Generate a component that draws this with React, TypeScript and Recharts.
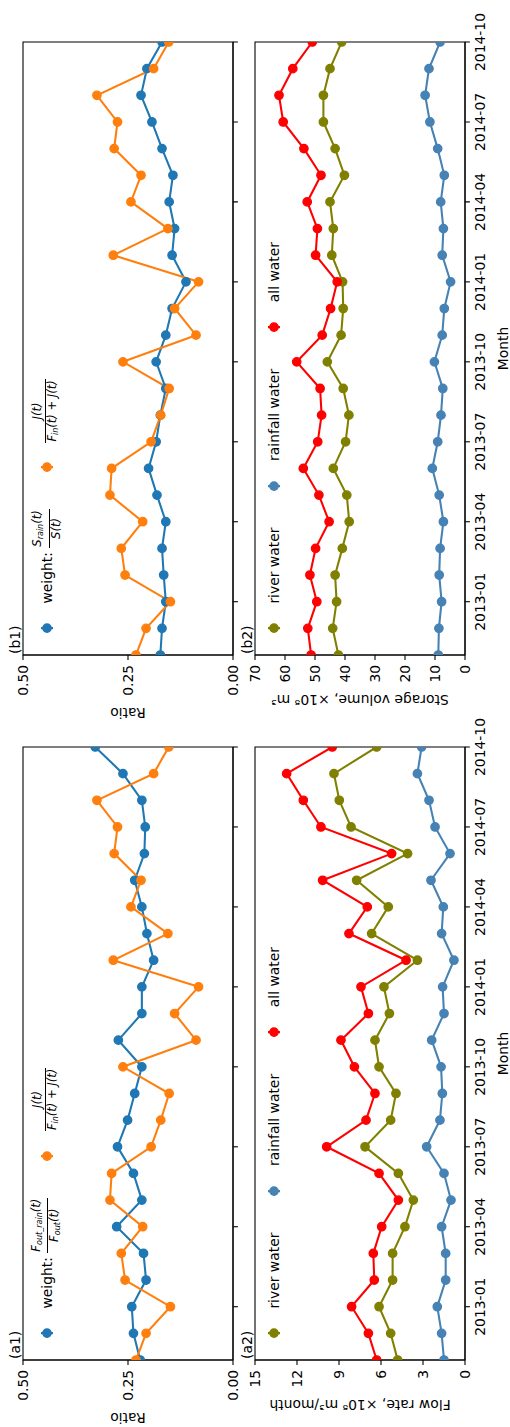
import React from 'react';
import { LineChart, Line, XAxis, YAxis, ReferenceArea, Legend } from 'recharts';

const months = ['2012-11','2012-12','2013-01','2013-02','2013-03','2013-04','2013-05','2013-06','2013-07','2013-08','2013-09','2013-10','2013-11','2013-12','2014-01','2014-02','2014-03','2014-04','2014-05','2014-06','2014-07','2014-08','2014-09','2014-10'];
const monthTicks = [2, 5, 8, 11, 14, 17, 20, 23];
const ratioTicks = [0, 0.25, 0.5];
const flowTicks = [0, 3, 6, 9, 12, 15];
const storageTicks = [0, 10, 20, 30, 40, 50, 60, 70];

// (a1) ratios
const weightOut = [0.221,0.237,0.241,0.207,0.213,0.277,0.217,0.237,0.275,0.251,0.234,0.217,0.273,0.217,0.217,0.189,0.205,0.217,0.234,0.211,0.209,0.217,0.262,0.328];
const jRatio = [0.231,0.207,0.149,0.257,0.266,0.215,0.293,0.289,0.195,0.172,0.152,0.262,0.088,0.139,0.082,0.285,0.155,0.243,0.219,0.283,0.275,0.324,0.189,0.153];
// (b1) ratios
const weightStorage = [0.173,0.169,0.160,0.165,0.169,0.160,0.181,0.201,0.183,0.173,0.160,0.183,0.160,0.145,0.112,0.145,0.139,0.152,0.143,0.169,0.193,0.219,0.205,0.169];
// (a2) flow rate
const flowRiver = [4.81,5.31,6.14,5.17,5.17,4.29,3.69,4.76,7.14,5.31,4.93,6.14,6.43,5.40,5.79,3.40,6.67,5.48,7.74,4.10,8.14,8.98,9.36,6.31];
const flowRain = [1.50,1.67,1.98,1.38,1.38,1.67,1.00,1.50,2.74,1.79,1.62,1.71,2.38,1.50,1.60,0.79,1.67,1.55,2.43,1.07,2.14,2.57,3.40,3.10];
const flowAll = [6.31,6.90,8.10,6.48,6.55,5.95,4.76,6.14,9.88,7.07,6.43,7.90,8.86,6.90,7.43,4.21,8.29,6.98,10.17,5.24,10.29,11.55,12.74,9.48];
// (b2) storage volume
const storRiver = [42.2,44.1,42.8,43.3,40.9,38.6,39.4,43.9,39.8,38.7,40.6,45.9,41.3,40.6,40.8,44.4,43.9,45.0,40.2,43.3,47.2,47.2,45.0,41.1];
const storRain = [8.9,8.7,7.8,8.6,8.3,7.2,8.6,10.9,9.1,8.0,7.4,10.2,7.6,6.9,4.8,7.6,7.2,8.1,6.9,9.1,11.7,13.3,12.0,8.3];
const storAll = [51.3,52.4,49.4,51.7,49.8,45.3,48.7,53.9,49.1,47.8,48.3,56.1,47.6,44.8,42.6,49.8,49.2,52.6,48.0,53.7,60.6,62.0,57.4,50.9];

const FONT = 'DejaVu Sans';
const FS = 13.9;
const C_BLUE = '#1f77b4';
const C_ORANGE = '#ff7f0e';
const C_RED = '#ff0000';
const C_OLIVE = '#808000';
const C_STEEL = '#4682b4';

const Sub = ({ children }: any) => (
  <span style={{ fontSize: '0.7em', verticalAlign: '-0.3em' }}>{children}</span>
);

const Frac = ({ num, den }: any) => (
  <span style={{ display: 'inline-flex', flexDirection: 'column', alignItems: 'center', verticalAlign: 'middle', fontStyle: 'italic', fontSize: 11.5, lineHeight: '13px' }}>
    <span style={{ padding: '0 1px 1px 1px' }}>{num}</span>
    <span style={{ borderTop: '0.9px solid #000', padding: '0 1px', alignSelf: 'stretch', textAlign: 'center' }}>{den}</span>
  </span>
);

type Item = { color: string; label: any };

const LegendRow = ({ items }: { items: Item[] }) => (
  <div style={{ display: 'flex', alignItems: 'center', height: 34, fontFamily: FONT, fontSize: FS, color: '#000', whiteSpace: 'nowrap' }}>
    {items.map((it, k) => (
      <div key={k} style={{ display: 'flex', alignItems: 'center', marginLeft: k ? 27.8 : 0 }}>
        <svg width={27.8} height={16} style={{ display: 'block' }}>
          <line x1={13.9} x2={13.9} y1={2} y2={14} stroke={it.color} strokeWidth={2.08} />
          <circle cx={13.9} cy={8} r={4.17} fill={it.color} stroke={it.color} strokeWidth={1.39} />
        </svg>
        <div style={{ marginLeft: 11.1, display: 'flex', alignItems: 'center' }}>{it.label}</div>
      </div>
    ))}
  </div>
);

type Series = { key: string; color: string; values: number[] };

type PanelProps = {
  left: number;
  top: number;
  height: number;
  marginTop: number;
  xAxisHeight: number;
  marginBottom: number;
  series: Series[];
  yMax: number;
  yTicks: number[];
  yFmt: (v: number) => string;
  yLabel: string;
  yLabelX: number;
  panelLabel: string;
  showMonths: boolean;
  legendItems: Item[];
  legendTop: number;
};

const Panel = (p: PanelProps) => {
  const data = months.map((m, i) => {
    const row: any = { i };
    p.series.forEach((s) => { row[s.key] = s.values[i]; });
    return row;
  });
  const W = 720;
  const plotLeft = 67;
  const plotRight = 680;
  const plotTop = p.marginTop;
  const plotBottom = p.height - p.marginBottom - p.xAxisHeight;
  const cy = (plotTop + plotBottom) / 2;
  const labels = () => (
    <g>
      <text x={p.yLabelX} y={cy} transform={`rotate(-90 ${p.yLabelX} ${cy})`} textAnchor="middle" dominantBaseline="central" fontSize={FS} fontFamily={FONT} fill="#000">{p.yLabel}</text>
      <text x={plotLeft + 1} y={plotTop - 3} fontSize={FS} fontFamily={FONT} fill="#000">{p.panelLabel}</text>
      {p.showMonths ? (
        <text x={(plotLeft + plotRight) / 2} y={plotBottom + 38} textAnchor="middle" dominantBaseline="central" fontSize={FS} fontFamily={FONT} fill="#000">Month</text>
      ) : null}
    </g>
  );
  const tickStyle = { fontSize: FS, fontFamily: FONT, fill: '#000' };
  return (
    <div style={{ position: 'absolute', left: p.left, top: p.top, width: W, height: p.height }}>
      <LineChart width={W} height={p.height} data={data} margin={{ top: p.marginTop, right: W - plotRight, bottom: p.marginBottom, left: 0 }}>
        <XAxis
          dataKey="i"
          type="number"
          domain={[0, 23]}
          ticks={monthTicks}
          interval={0}
          allowDataOverflow
          height={p.xAxisHeight}
          tickFormatter={(v: number) => months[v]}
          tick={p.showMonths ? tickStyle : () => <g />}
          tickSize={4.9}
          tickMargin={4.9}
          axisLine={{ stroke: '#000', strokeWidth: 1.1 }}
          tickLine={{ stroke: '#000', strokeWidth: 1.1 }}
        />
        <YAxis
          type="number"
          domain={[0, p.yMax]}
          ticks={p.yTicks}
          interval={0}
          allowDataOverflow
          width={plotLeft}
          tickFormatter={p.yFmt}
          tick={tickStyle}
          tickSize={4.9}
          tickMargin={4.9}
          axisLine={{ stroke: '#000', strokeWidth: 1.1 }}
          tickLine={{ stroke: '#000', strokeWidth: 1.1 }}
          label={labels}
        />
        {p.series.map((s) => (
          <Line
            key={s.key}
            dataKey={s.key}
            stroke={s.color}
            strokeWidth={2.08}
            dot={{ r: 4.17, fill: s.color, stroke: s.color, strokeWidth: 1.39 }}
            activeDot={false}
            isAnimationActive={false}
          />
        ))}
        <ReferenceArea x1={0} x2={23} y1={0} y2={p.yMax} fill="none" fillOpacity={0} stroke="#000" strokeWidth={1.1} />
        <Legend
          layout="vertical"
          align="center"
          verticalAlign="middle"
          wrapperStyle={{ left: 79.5, top: p.legendTop, width: 600, height: 34 }}
          content={() => <LegendRow items={p.legendItems} />}
        />
      </LineChart>
    </div>
  );
};

const fmt2 = (v: number) => v.toFixed(2);
const fmt0 = (v: number) => String(v);

const a1Legend: Item[] = [
  { color: C_BLUE, label: (<><span>weight:&nbsp;</span><Frac num={<>F<Sub>out_rain</Sub>(t)</>} den={<>F<Sub>out</Sub>(t)</>} /></>) },
  { color: C_ORANGE, label: <Frac num={<>J(t)</>} den={<>F<Sub>in</Sub>(t) + J(t)</>} /> },
];
const b1Legend: Item[] = [
  { color: C_BLUE, label: (<><span>weight:&nbsp;</span><Frac num={<>S<Sub>rain</Sub>(t)</>} den={<>S(t)</>} /></>) },
  { color: C_ORANGE, label: <Frac num={<>J(t)</>} den={<>F<Sub>in</Sub>(t) + J(t)</>} /> },
];
const waterLegend: Item[] = [
  { color: C_OLIVE, label: 'river water' },
  { color: C_STEEL, label: 'rainfall water' },
  { color: C_RED, label: 'all water' },
];

export default function App() {
  const top = { top: 0, height: 240, marginTop: 23, xAxisHeight: 7, marginBottom: 0, showMonths: false, legendTop: 30 };
  const bottom = { top: 240, height: 280, marginTop: 15, xAxisHeight: 45, marginBottom: 10, showMonths: true, legendTop: 17 };
  return (
    <div style={{ position: 'absolute', left: 0, top: 0, width: 510, height: 1427, overflow: 'hidden', background: '#fff' }}>
      <div style={{ position: 'absolute', left: 0, top: 0, width: 1427, height: 510, transformOrigin: '0 0', transform: 'translate(0px, 1427px) rotate(-90deg)', fontFamily: FONT, background: '#fff' }}>
        <Panel
          left={0} {...top}
          series={[{ key: 'w', color: C_BLUE, values: weightOut }, { key: 'j', color: C_ORANGE, values: jRatio }]}
          yMax={0.5} yTicks={ratioTicks} yFmt={fmt2} yLabel="Ratio" yLabelX={9} panelLabel="(a1)"
          legendItems={a1Legend}
        />
        <Panel
          left={705} {...top}
          series={[{ key: 'w', color: C_BLUE, values: weightStorage }, { key: 'j', color: C_ORANGE, values: jRatio }]}
          yMax={0.5} yTicks={ratioTicks} yFmt={fmt2} yLabel="Ratio" yLabelX={9} panelLabel="(b1)"
          legendItems={b1Legend}
        />
        <Panel
          left={0} {...bottom}
          series={[{ key: 'river', color: C_OLIVE, values: flowRiver }, { key: 'rain', color: C_STEEL, values: flowRain }, { key: 'all', color: C_RED, values: flowAll }]}
          yMax={15} yTicks={flowTicks} yFmt={fmt0} yLabel="Flow rate, ×10⁸ m³/month" yLabelX={22} panelLabel="(a2)"
          legendItems={waterLegend}
        />
        <Panel
          left={705} {...bottom}
          series={[{ key: 'river', color: C_OLIVE, values: storRiver }, { key: 'rain', color: C_STEEL, values: storRain }, { key: 'all', color: C_RED, values: storAll }]}
          yMax={70} yTicks={storageTicks} yFmt={fmt0} yLabel="Storage volume, ×10⁸ m³" yLabelX={22} panelLabel="(b2)"
          legendItems={waterLegend}
        />
      </div>
    </div>
  );
}
